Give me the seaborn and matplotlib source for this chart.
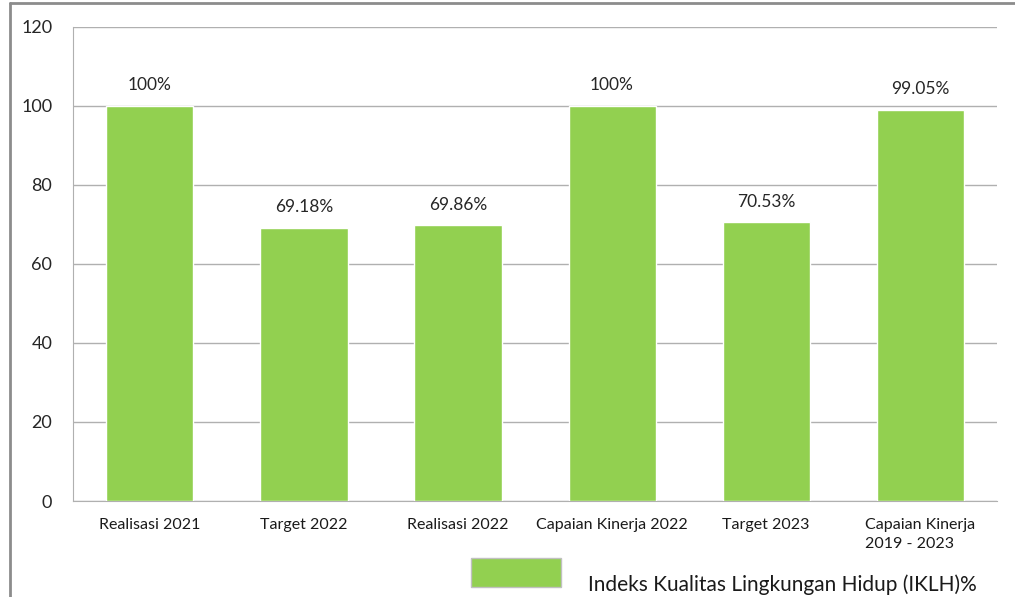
import pandas as pd
import seaborn as sns
import matplotlib.pyplot as plt
from matplotlib.patches import Rectangle
from matplotlib.lines import Line2D

# data
categories = ['Realisasi 2021', 'Target 2022', 'Realisasi 2022',
              'Capaian Kinerja 2022', 'Target 2023', 'Capaian Kinerja\n2019 - 2023']
values = [100, 69.18, 69.86, 100, 70.53, 99.05]
bar_labels = ['100%', '69.18%', '69.86%', '100%', '70.53%', '99.05%']
yticks = [0, 20, 40, 60, 80, 100, 120]
legend_label = 'Indeks Kualitas Lingkungan Hidup (IKLH)%'

df = pd.DataFrame({'kategori': categories, 'nilai': values})

sns.set_style('white')
plt.rcParams['font.family'] = ['Lato', 'DejaVu Sans']

fig = plt.figure(figsize=(10.15, 5.97), dpi=100)
ax = fig.add_axes([0.0719, 0.1608, 0.9104, 0.794])

green = '#92D050'
sns.barplot(x='kategori', y='nilai', data=df, color=green, width=0.565,
            saturation=1, ax=ax, zorder=3)

ax.set_ylim(0, 120)
ax.set_xlim(-0.5, 5.5)
ax.set_yticks(yticks)
ax.set_yticklabels([str(t) for t in yticks], fontsize=13, color='#262626')
ax.tick_params(axis='y', length=0, pad=15)
ax.tick_params(axis='x', length=0, pad=12, labelsize=11.5, labelcolor='#1a1a1a')
for t in ax.get_xticklabels():
    t.set_multialignment('left')
    t.set_linespacing(1.45)
ax.set_xlabel('')
ax.set_ylabel('')

ax.grid(axis='y', color='#B0B0B0', linewidth=1, zorder=0)
for s in ['top', 'right']:
    ax.spines[s].set_visible(False)
ax.spines['left'].set_color('#B0B0B0')
ax.spines['bottom'].set_color('#B0B0B0')

# label di atas batang
for i, (v, lab) in enumerate(zip(values, bar_labels)):
    ax.annotate(lab, (i, v), xytext=(0, 9), textcoords='offset points',
                ha='center', va='bottom', fontsize=12.5, color='#262626')

# bingkai grafik (terpotong)
fig.add_artist(Line2D([10 / 1015, 10 / 1015], [0, 1 - 3 / 597],
                      transform=fig.transFigure, color='#8c8c8c', linewidth=2))
fig.add_artist(Line2D([10 / 1015, 1], [1 - 3 / 597, 1 - 3 / 597],
                      transform=fig.transFigure, color='#8c8c8c', linewidth=2))

# legenda
fig.add_artist(Rectangle((471 / 1015, 1 - 587 / 597), 90 / 1015, 29 / 597,
                         transform=fig.transFigure, facecolor=green,
                         edgecolor='#C0C0C0', linewidth=1))
fig.text(588 / 1015, 1 - 591 / 597, legend_label, fontsize=15,
         color='#1a1a1a', ha='left', va='baseline')

fig.savefig('out.png', dpi=100)
